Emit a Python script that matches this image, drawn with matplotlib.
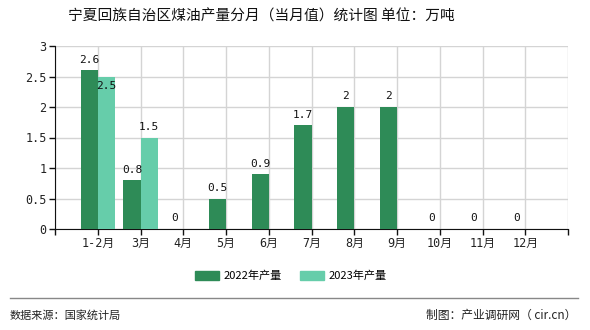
import matplotlib
matplotlib.use('Agg')
import matplotlib.pyplot as plt
from matplotlib.patches import Patch
from matplotlib.lines import Line2D
import numpy as np

plt.rcParams['font.family'] = ['Noto Sans CJK SC', 'DejaVu Sans']
mono = ['DejaVu Sans Mono', 'Noto Sans CJK SC']

###  DATA  ###

months = ['1-2月', '3月', '4月', '5月', '6月', '7月', '8月', '9月', '10月', '11月', '12月']
prod_2022 = [2.6, 0.8, 0, 0.5, 0.9, 1.7, 2, 2, 0, 0, 0]
prod_2023 = [2.5, 1.5]

c2022 = '#2e8b57'
c2023 = '#66cdaa'

###  PLOT  ###

fig = plt.figure(figsize=(5.9, 3.3), dpi=100)
ax = fig.add_axes([55/590, 101/330, 513/590, 183/330])

pos = np.arange(1, len(months) + 1)
w = 0.4
b1 = ax.bar(pos - w/2, prod_2022, width=w, color=c2022, zorder=3)
b2 = ax.bar(pos[:len(prod_2023)] + w/2, prod_2023, width=w, color=c2023, zorder=3)

lab_kw = dict(textcoords='offset points', ha='center', fontsize=8, color='#111111', family=mono)
for r, v in zip(b1, prod_2022):
    ax.annotate('%g' % v, (r.get_x() + r.get_width()/2, v), xytext=(0, 4), va='bottom', **lab_kw)
for i, (r, v) in enumerate(zip(b2, prod_2023)):
    # first label sits just under the bar top so it clears the 2.6 label
    if i == 0:
        ax.annotate('%g' % v, (r.get_x() + r.get_width()/2, v), xytext=(0, -3), va='top', **lab_kw)
    else:
        ax.annotate('%g' % v, (r.get_x() + r.get_width()/2, v), xytext=(0, 4), va='bottom', **lab_kw)

ax.set_xlim(0, 12)
ax.set_ylim(0, 3)
ax.set_xticks(np.arange(0, 13))
ax.set_xticklabels([''] + months + [''], family=mono)
ax.set_yticks(np.arange(0, 3.01, 0.5))
ax.set_yticklabels(['0', '0.5', '1', '1.5', '2', '2.5', '3'], family=mono)
ax.tick_params(axis='both', labelsize=8.5, length=4, width=1, color='#111111', labelcolor='#222222', pad=2)

ax.grid(True, color='#d4d4d4', linewidth=1, zorder=0)
ax.spines['top'].set_visible(False)
ax.spines['right'].set_visible(False)
ax.spines['left'].set_color('#111111')
ax.spines['bottom'].set_color('#111111')

fig.text(68/590, 1 - 17/330, '宁夏回族自治区煤油产量分月（当月值）统计图 单位：万吨',
         ha='left', va='center', fontsize=10.6, color='#111111')

handles = [Patch(color=c2022), Patch(color=c2023)]
fig.legend(handles, ['2022年产量', '2023年产量'], loc='center', bbox_to_anchor=(291/590, 1 - 276/330),
           ncol=2, frameon=False, fontsize=8, handlelength=2.2, handleheight=0.9,
           handletextpad=0.4, columnspacing=1.6)

fig.add_artist(Line2D([10/590, 578/590], [1 - 298/330, 1 - 298/330], color='#888888', linewidth=1))
fig.text(10/590, 1 - 315/330, '数据来源：国家统计局', ha='left', va='center', fontsize=8, color='#222222')
fig.text(576/590, 1 - 315/330, '制图：产业调研网（ cir.cn）', ha='right', va='center', fontsize=8.5, color='#222222')

fig.savefig('out.png', dpi=100)
